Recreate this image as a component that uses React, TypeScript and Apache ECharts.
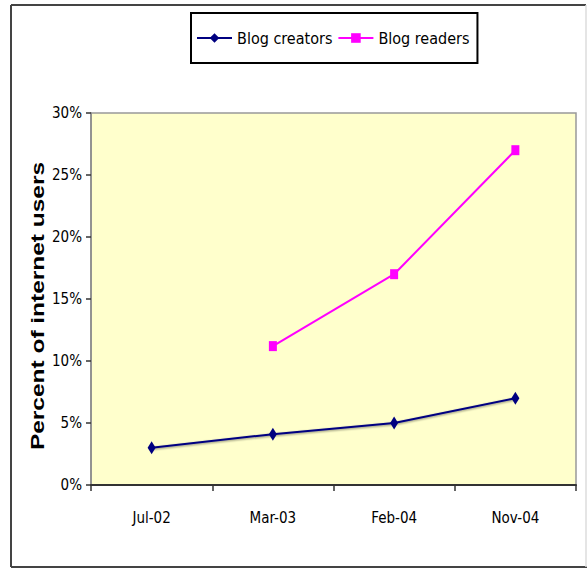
import React, { useEffect, useRef } from "react";
import * as echarts from "echarts";

const categories = ["Jul-02", "Mar-03", "Feb-04", "Nov-04"];
const creators = [3.0, 4.1, 5.0, 7.0];
const readers: (number | null)[] = [null, 11.2, 17.0, 27.0];
const yTicks = [0, 5, 10, 15, 20, 25, 30];

const NARROW = "'DejaVu Sans Condensed', 'Arial Narrow', sans-serif";
const SANS = "'Liberation Sans', Arial, sans-serif";

export default function App() {
  const ref = useRef<HTMLDivElement>(null);
  useEffect(() => {
    document.body.style.margin = "0";
    const chart = echarts.init(ref.current!, null, { renderer: "svg" });
    chart.setOption({
      animation: false,
      backgroundColor: "#ffffff",
      grid: {
        left: 91,
        right: 11,
        top: 113,
        bottom: 83,
        show: true,
        backgroundColor: "#FFFFCC",
        borderColor: "#999999",
        borderWidth: 1.5,
      },
      legend: {
        left: 191,
        top: 13,
        padding: [17, 8, 17, 5],
        borderColor: "#000",
        borderWidth: 2,
        itemWidth: 35,
        itemHeight: 12,
        itemGap: 5,
        textStyle: { fontFamily: NARROW, fontSize: 16, color: "#000" },
        data: ["Blog creators", "Blog readers"],
      },
      xAxis: {
        type: "category",
        data: categories,
        boundaryGap: true,
        axisLine: { show: true, lineStyle: { color: "#333", width: 2 } },
        axisTick: { show: true, length: 6, lineStyle: { color: "#333", width: 1.5 } },
        axisLabel: { fontFamily: NARROW, fontSize: 15, color: "#000", margin: 25 },
        splitLine: { show: false },
      },
      yAxis: {
        type: "value",
        min: yTicks[0],
        max: yTicks[yTicks.length - 1],
        interval: 5,
        axisLine: { show: true, lineStyle: { color: "#888", width: 1.5 } },
        axisTick: { show: true, length: 5, lineStyle: { color: "#333", width: 1.5 } },
        axisLabel: {
          fontFamily: NARROW,
          fontSize: 15,
          color: "#000",
          margin: 9,
          formatter: (v: number) => v + "%",
        },
        splitLine: {
          show: true,
          lineStyle: {
            color: "#000",
            width: 2,
            shadowColor: "rgba(0,0,0,0.35)",
            shadowOffsetY: 1.2,
            shadowBlur: 1,
          },
        },
      },
      series: [
        {
          name: "Blog creators",
          type: "line",
          data: creators,
          symbol: "diamond",
          symbolSize: [8, 13],
          itemStyle: { color: "#000080" },
          lineStyle: {
            color: "#000080",
            width: 2,
            shadowColor: "rgba(0,0,0,0.45)",
            shadowBlur: 2,
            shadowOffsetY: 1,
          },
        },
        {
          name: "Blog readers",
          type: "line",
          data: readers,
          connectNulls: false,
          symbol: "rect",
          symbolSize: [8, 10],
          itemStyle: { color: "#FF00FF" },
          lineStyle: { color: "#FF00FF", width: 2 },
        },
      ],
      graphic: [
        {
          type: "line",
          shape: { x1: 11, y1: 5, x2: 586, y2: 5 },
          style: { stroke: "#444", lineWidth: 2 },
        },
        {
          type: "line",
          shape: { x1: 11, y1: 5, x2: 11, y2: 567 },
          style: { stroke: "#444", lineWidth: 2 },
        },
        {
          type: "line",
          shape: { x1: 11, y1: 567, x2: 587, y2: 567 },
          style: { stroke: "#444", lineWidth: 2 },
        },
        {
          type: "line",
          shape: { x1: 586, y1: 5, x2: 586, y2: 567 },
          style: { stroke: "#dddddd", lineWidth: 1.5 },
        },
        {
          type: "text",
          x: 38,
          y: 306,
          rotation: Math.PI / 2,
          scaleX: 1.36,
          style: {
            text: "Percent of internet users",
            font: "bold 18px " + SANS,
            fill: "#000",
            align: "center",
            verticalAlign: "middle",
          },
        },
      ],
    });
    return () => chart.dispose();
  }, []);
  return (
    <div
      ref={ref}
      style={{ position: "absolute", left: 0, top: 0, width: 587, height: 568 }}
    />
  );
}
